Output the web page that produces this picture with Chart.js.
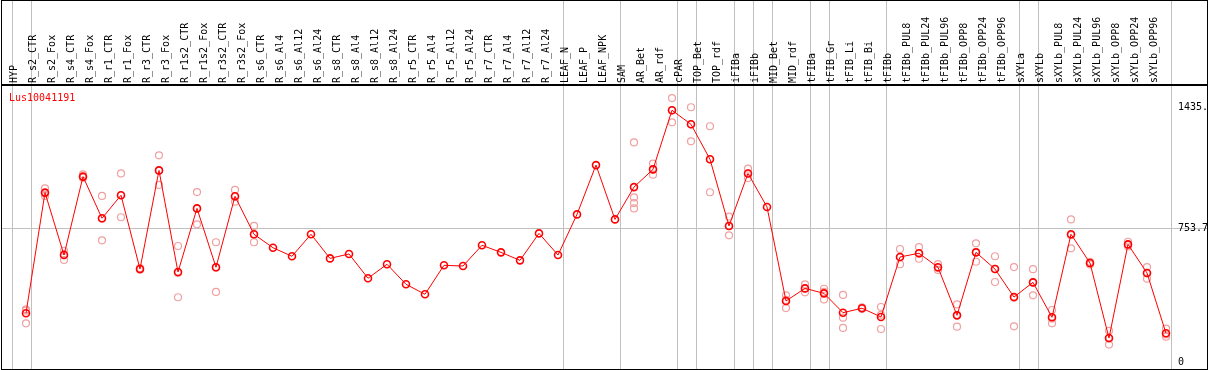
<!DOCTYPE html>
<html>
<head>
<meta charset="utf-8">
<script src="https://cdn.jsdelivr.net/npm/chart.js@4.4.0/dist/chart.umd.min.js"></script>
<style>
  body { margin: 0; background: #fff; }
  canvas { display: block; }
</style>
</head>
<body>
<canvas id="expr-chart" width="1209" height="370"></canvas>
<script>
const geneName = 'Lus10041191';

const categories = [
    'HYP', 'R_s2_CTR', 'R_s2_Fox', 'R_s4_CTR', 'R_s4_Fox', 'R_r1_CTR', 'R_r1_Fox', 'R_r3_CTR', 'R_r3_Fox',
    'R_r1s2_CTR', 'R_r1s2_Fox', 'R_r3s2_CTR', 'R_r3s2_Fox',
    'R_s6_CTR', 'R_s6_Al4', 'R_s6_Al12', 'R_s6_Al24', 'R_s8_CTR', 'R_s8_Al4', 'R_s8_Al12', 'R_s8_Al24',
    'R_r5_CTR', 'R_r5_Al4', 'R_r5_Al12', 'R_r5_Al24', 'R_r7_CTR', 'R_r7_Al4', 'R_r7_Al12', 'R_r7_Al24',
    'LEAF_N', 'LEAF_P', 'LEAF_NPK', 'SAM', 'AR_Bet', 'AR_rdf', 'cPAR', 'TOP_Bet', 'TOP_rdf',
    'iFIBa', 'iFIBb', 'MID_Bet', 'MID_rdf', 'tFIBa', 'tFIB_Gr', 'tFIB_Li', 'tFIB_Bi',
    'tFIBb', 'tFIBb_PUL8', 'tFIBb_PUL24', 'tFIBb_PUL96', 'tFIBb_OPP8', 'tFIBb_OPP24', 'tFIBb_OPP96',
    'sXYLa', 'sXYLb', 'sXYLb_PUL8', 'sXYLb_PUL24', 'sXYLb_PUL96', 'sXYLb_OPP8', 'sXYLb_OPP24', 'sXYLb_OPP96'
];

// mean expression per sample
const means = [
    275, 955, 603, 1045, 810, 940, 524, 1080, 507,
    866, 534, 934, 720,
    644, 596, 720, 584, 609, 472, 551, 438,
    382, 545, 541, 658, 618, 573, 725, 603,
    832, 1110, 804, 986, 1086, 1419, 1340, 1143, 767,
    1063, 874, 344, 415, 387, 278, 303, 254,
    592, 613, 534, 263, 618, 524, 366,
    449, 252, 720, 558, 135, 663, 502, 162
];

// individual replicates (empty = single sample)
const replicates = [
    [297, 290, 218], [979, 950, 936], [627, 608, 575], [1058, 1039, 1040], [936, 808, 686],
    [1063, 940, 816], [530, 520, 522], [1165, 1078, 998], [654, 502, 365],
    [958, 864, 776], [675, 532, 395], [970, 930, 904], [767, 718, 675],
    [], [], [], [], [], [], [], [],
    [], [], [], [], [], [], [], [],
    [], [], [], [1238, 928, 896, 866], [1118, 1086, 1056], [1488, 1419, 1351], [1436, 1340, 1244],
    [1329, 1143, 957], [819, 767, 714],
    [1090, 1063, 1037], [], [376, 350, 304], [438, 415, 393], [413, 395, 353], [378, 250, 192],
    [308, 300, 301], [310, 266, 186],
    [637, 590, 551], [648, 610, 582], [552, 530, 519], [325, 265, 199], [669, 620, 565],
    [596, 525, 451], [535, 362, 201],
    [523, 448, 376], [293, 245, 218], [804, 715, 641], [565, 558, 550], [176, 131, 98],
    [678, 660, 651], [535, 500, 470], [188, 155, 143]
];

// last sample index of each tissue group (separator drawn after it)
const groupEnds = [-1, 0, 28, 31, 34, 35, 37, 38, 39, 41, 42, 45, 52, 53, 60];

const yTickValues = [0, 753.7, 1435];
const yTickLabels = ['0', '753.7', '1435.'];

const FONT = 'DejaVu Sans Mono';

const meanPoints = means.map((v, i) => ({ x: i, y: v }));
const replicatePoints = [];
replicates.forEach((reps, i) => {
    reps.forEach((v) => replicatePoints.push({ x: i, y: v }));
});

const decorPlugin = {
    id: 'decor',
    beforeDraw(chart) {
        const { ctx, chartArea, scales } = chart;
        ctx.save();
        ctx.fillStyle = '#fff';
        ctx.fillRect(0, 0, chart.width, chart.height);
        ctx.strokeStyle = '#c0c0c0';
        ctx.lineWidth = 1;
        groupEnds.forEach((g) => {
            const x = Math.round(scales.x.getPixelForValue(g + 0.25)) + 0.5;
            ctx.beginPath();
            ctx.moveTo(x, 0);
            ctx.lineTo(x, chartArea.bottom);
            ctx.stroke();
        });
        ctx.restore();
    },
    afterDraw(chart) {
        const { ctx, chartArea, scales } = chart;
        ctx.save();
        // y labels, drawn inside the plot on the right
        ctx.font = `10px "${FONT}"`;
        ctx.fillStyle = '#000';
        ctx.textAlign = 'left';
        ctx.textBaseline = 'middle';
        const labelX = scales.x.getPixelForValue(categories.length - 1) + 12;
        yTickValues.forEach((v, i) => {
            ctx.fillText(yTickLabels[i], labelX, scales.y.getPixelForValue(v));
        });

        // gene name
        ctx.fillStyle = '#ff0000';
        ctx.textBaseline = 'alphabetic';
        ctx.fillText(geneName, chartArea.left + 8, chartArea.top + 16);

        // frame
        ctx.strokeStyle = '#000';
        ctx.lineWidth = 1;
        ctx.strokeRect(chartArea.left + 0.5, 0.5, chartArea.right - chartArea.left, chartArea.bottom);
        ctx.lineWidth = 2;
        ctx.beginPath();
        ctx.moveTo(chartArea.left, chartArea.top);
        ctx.lineTo(chartArea.right + 1, chartArea.top);
        ctx.stroke();
        ctx.restore();
    }
};

const ctx = document.getElementById('expr-chart').getContext('2d');
new Chart(ctx, {
    type: 'scatter',
    data: {
        datasets: [
            {
                label: 'mean',
                data: meanPoints,
                showLine: true,
                borderColor: '#ff0000',
                borderWidth: 1,
                pointRadius: 3.5,
                pointBorderWidth: 1.6,
                pointBorderColor: '#ff0000',
                pointBackgroundColor: 'rgba(0,0,0,0)'
            },
            {
                label: 'replicates',
                data: replicatePoints,
                showLine: false,
                pointRadius: 3.5,
                pointBorderWidth: 1.2,
                pointBorderColor: '#f0a0a0',
                pointBackgroundColor: 'rgba(0,0,0,0)'
            }
        ]
    },
    options: {
        responsive: false,
        animation: false,
        layout: { autoPadding: false, padding: { left: 1, right: 2, top: 0, bottom: 1 } },
        plugins: {
            legend: { display: false },
            tooltip: { enabled: false }
        },
        scales: {
            x: {
                type: 'linear',
                position: 'top',
                bounds: 'data',
                min: -1.3158,
                max: 62.158,
                afterBuildTicks: (axis) => {
                    axis.ticks = categories.map((_, i) => ({ value: i }));
                },
                afterFit: (axis) => {
                    axis.height = 85;
                    axis.paddingLeft = 0;
                    axis.paddingRight = 0;
                },
                grid: { display: false, drawTicks: false },
                border: { display: false },
                ticks: {
                    autoSkip: false,
                    minRotation: 90,
                    maxRotation: 90,
                    padding: 2,
                    color: '#000',
                    font: { family: FONT, size: 10 },
                    callback: (v) => categories[v]
                }
            },
            y: {
                type: 'linear',
                position: 'right',
                bounds: 'data',
                min: -39.46,
                max: 1561.5,
                afterBuildTicks: (axis) => {
                    axis.ticks = yTickValues.map((v) => ({ value: v }));
                },
                afterFit: (axis) => {
                    axis.width = 0;
                    axis.paddingTop = 0;
                    axis.paddingBottom = 0;
                },
                grid: {
                    drawTicks: false,
                    color: (c) => (c.tick && c.tick.value === 753.7 ? '#c0c0c0' : 'rgba(0,0,0,0)')
                },
                border: { display: false },
                ticks: { display: false }
            }
        }
    },
    plugins: [decorPlugin]
});
</script>
</body>
</html>
